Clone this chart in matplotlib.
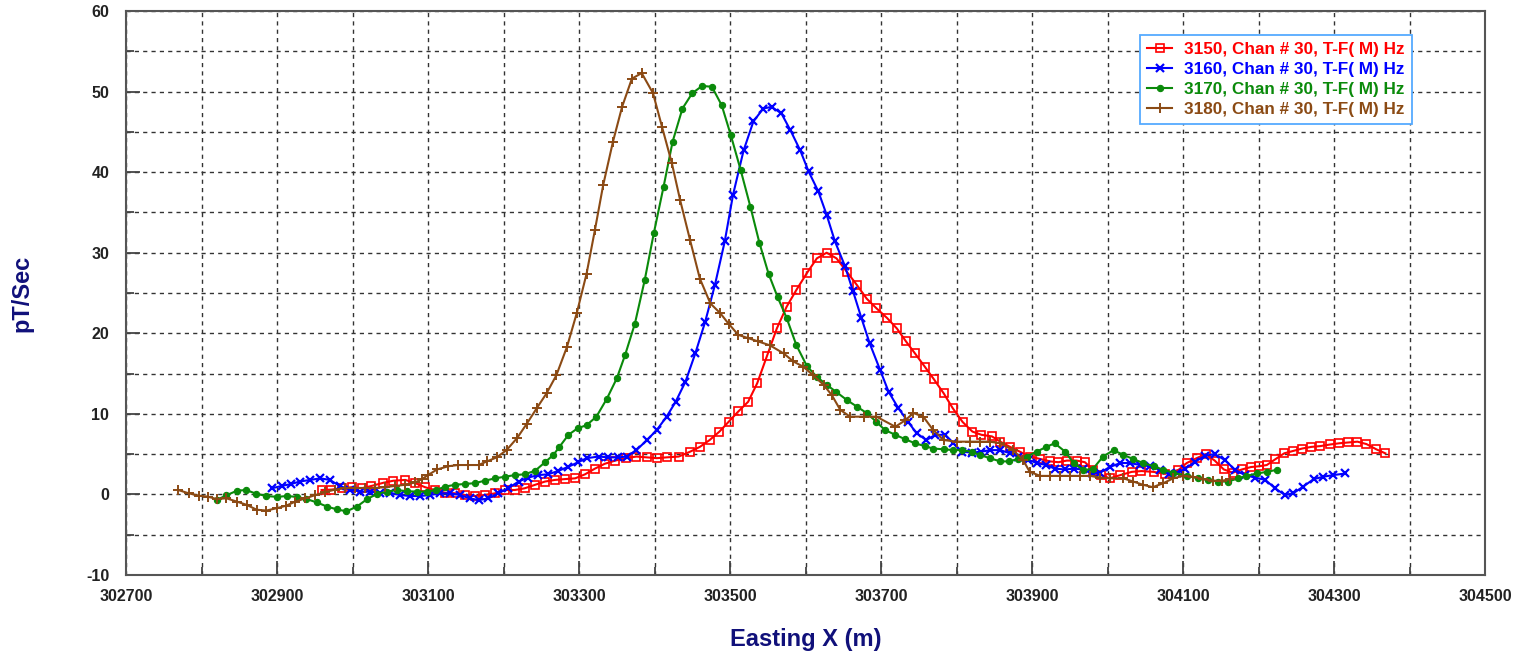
import matplotlib
matplotlib.use("Agg")
import matplotlib.pyplot as plt
from matplotlib.ticker import FixedLocator, MultipleLocator

plt.rcParams["font.family"] = ["Liberation Sans", "DejaVu Sans"]
plt.rcParams["axes.unicode_minus"] = False

# Easting (m) and response (pT/Sec) per channel-time series
x3150 = [302959, 302972, 302986, 302999, 303012, 303025, 303041, 303054, 303070, 303083,
         303096, 303109, 303123, 303136, 303149, 303162, 303175, 303189, 303202, 303215,
         303228, 303242, 303255, 303268, 303281, 303295, 303308, 303321, 303334, 303348,
         303362, 303376, 303390, 303403, 303416, 303432, 303447, 303460, 303473, 303486,
         303498, 303511, 303524, 303536, 303549, 303562, 303575, 303588, 303602, 303615,
         303628, 303641, 303655, 303668, 303681, 303694, 303708, 303721, 303733, 303745,
         303758, 303770, 303783, 303795, 303808, 303821, 303833, 303847, 303858, 303871,
         303884, 303897, 303911, 303924, 303935, 303946, 303959, 303970, 303981, 303992,
         304003, 304017, 304032, 304045, 304061, 304076, 304094, 304105, 304118, 304130,
         304142, 304154, 304166, 304178, 304190, 304201, 304211, 304222, 304234, 304246,
         304258, 304270, 304282, 304295, 304307, 304319, 304331, 304343, 304356, 304368]
y3150 = [0.55, 0.6, 0.76, 0.9, 0.76, 1.05, 1.45, 1.7, 1.8, 1.4,
         0.9, 0.55, 0.2, 0.14, -0.07, -0.2, -0.07, 0.14, 0.55, 0.55,
         0.76, 1.2, 1.6, 1.8, 1.9, 2.0, 2.5, 3.2, 3.8, 4.2,
         4.5, 4.7, 4.6, 4.5, 4.6, 4.7, 5.3, 5.9, 6.75, 7.8,
         9.0, 10.3, 11.5, 13.8, 17.2, 20.6, 23.3, 25.4, 27.5, 29.3,
         30.0, 29.3, 27.6, 26.0, 24.3, 23.1, 21.9, 20.6, 19.0, 17.5,
         15.85, 14.3, 12.55, 10.7, 9.0, 7.8, 7.4, 7.2, 6.55, 5.9,
         5.3, 4.7, 4.4, 4.1, 4.0, 4.2, 4.2, 4.0, 3.05, 2.4,
         2.0, 2.4, 2.8, 2.9, 2.8, 2.55, 3.05, 3.9, 4.5, 5.0,
         4.2, 3.1, 2.7, 3.1, 3.4, 3.5, 3.65, 4.35, 5.1, 5.4,
         5.7, 5.9, 6.0, 6.2, 6.35, 6.45, 6.55, 6.25, 5.6, 5.1]

x3160 = [302893, 302906, 302919, 302930, 302944, 302957, 302970, 302983, 302997, 303010,
         303023, 303036, 303050, 303063, 303076, 303089, 303103, 303116, 303129, 303142,
         303156, 303167, 303180, 303193, 303206, 303220, 303233, 303246, 303259, 303272,
         303285, 303299, 303310, 303326, 303339, 303352, 303363, 303376, 303390, 303403,
         303416, 303428, 303441, 303454, 303467, 303480, 303493, 303504, 303518, 303531,
         303544, 303555, 303568, 303580, 303593, 303604, 303617, 303628, 303639, 303652,
         303663, 303674, 303685, 303699, 303710, 303723, 303736, 303747, 303760, 303772,
         303785, 303796, 303807, 303820, 303833, 303844, 303858, 303871, 303882, 303895,
         303906, 303919, 303930, 303944, 303955, 303968, 303979, 303990, 304003, 304017,
         304030, 304043, 304056, 304070, 304081, 304092, 304103, 304116, 304129, 304142,
         304155, 304169, 304182, 304195, 304209, 304222, 304235, 304246, 304259, 304273,
         304286, 304299, 304315]
y3160 = [0.76, 1.05, 1.3, 1.6, 1.8, 2.0, 1.8, 1.05, 0.6, 0.35,
         0.35, 0.2, 0.2, -0.07, -0.2, -0.2, -0.07, 0.14, 0.14, -0.07,
         -0.5, -0.7, -0.5, 0.14, 0.76, 1.6, 2.1, 2.4, 2.5, 2.9,
         3.4, 4.0, 4.5, 4.7, 4.6, 4.6, 4.7, 5.5, 6.75, 8.0,
         9.65, 11.5, 14.0, 17.5, 21.4, 26.0, 31.4, 37.2, 42.7, 46.3,
         47.9, 48.1, 47.3, 45.2, 42.7, 40.1, 37.6, 34.7, 31.4, 28.4,
         25.2, 21.9, 18.75, 15.4, 12.75, 10.7, 9.0, 7.6, 6.75, 7.4,
         7.4, 6.35, 5.3, 5.2, 5.3, 5.5, 5.5, 5.1, 4.7, 4.3,
         3.9, 3.65, 3.2, 3.1, 3.2, 3.1, 2.6, 2.7, 3.4, 3.9,
         3.9, 3.65, 3.5, 3.05, 2.55, 2.6, 3.2, 4.06, 4.8, 5.0,
         4.3, 3.05, 2.4, 2.1, 1.8, 0.76, -0.07, 0.14, 0.96, 1.9,
         2.2, 2.4, 2.6]

x3170 = [302820, 302833, 302847, 302859, 302872, 302886, 302900, 302913, 302926, 302939,
         302953, 302966, 302979, 302992, 303006, 303019, 303032, 303045, 303059, 303072,
         303085, 303098, 303111, 303122, 303136, 303149, 303162, 303175, 303189, 303202,
         303215, 303228, 303242, 303255, 303266, 303274, 303286, 303298, 303310, 303323,
         303337, 303350, 303361, 303374, 303387, 303399, 303412, 303424, 303437, 303450,
         303463, 303476, 303489, 303501, 303514, 303527, 303539, 303551, 303563, 303575,
         303588, 303602, 303615, 303628, 303641, 303655, 303668, 303681, 303694, 303705,
         303719, 303732, 303745, 303758, 303769, 303783, 303796, 303807, 303820, 303831,
         303844, 303858, 303869, 303882, 303893, 303906, 303919, 303930, 303944, 303955,
         303968, 303981, 303994, 304008, 304021, 304034, 304047, 304061, 304074, 304087,
         304105, 304120, 304133, 304147, 304160, 304173, 304184, 304198, 304211, 304224]
y3170 = [-0.7, -0.1, 0.46, 0.55, 0.1, -0.2, -0.3, -0.2, -0.3, -0.57,
         -1.0, -1.5, -1.85, -2.1, -1.5, -0.6, 0.05, 0.35, 0.55, 0.4,
         0.35, 0.35, 0.55, 0.96, 1.2, 1.3, 1.4, 1.7, 2.0, 2.2,
         2.4, 2.5, 2.95, 4.0, 4.9, 5.9, 7.4, 8.2, 8.6, 9.65,
         11.9, 14.4, 17.3, 21.2, 26.6, 32.4, 38.2, 43.8, 47.9, 49.8,
         50.7, 50.6, 48.3, 44.6, 40.3, 35.7, 31.2, 27.4, 24.5, 21.9,
         18.5, 15.9, 14.6, 13.6, 12.7, 11.7, 10.9, 10.1, 9.0, 8.0,
         7.4, 6.85, 6.35, 6.0, 5.7, 5.6, 5.5, 5.5, 5.3, 4.9,
         4.5, 4.1, 4.1, 4.4, 4.7, 5.3, 5.9, 6.35, 5.3, 3.9,
         3.0, 3.2, 4.7, 5.5, 4.9, 4.4, 3.9, 3.5, 3.05, 2.7,
         2.3, 2.0, 1.8, 1.6, 1.6, 2.0, 2.3, 2.6, 2.8, 3.05]

x3180 = [302769, 302783, 302796, 302808, 302820, 302833, 302847, 302860, 302873, 302886,
         302900, 302912, 302924, 302937, 302950, 302964, 302977, 302990, 303003, 303017,
         303030, 303043, 303056, 303070, 303083, 303092, 303100, 303112, 303127, 303140,
         303153, 303167, 303178, 303191, 303204, 303218, 303231, 303244, 303257, 303270,
         303284, 303297, 303310, 303321, 303332, 303345, 303357, 303370, 303383, 303398,
         303410, 303423, 303434, 303447, 303460, 303474, 303487, 303498, 303511, 303524,
         303537, 303553, 303571, 303584, 303597, 303610, 303624, 303635, 303646, 303659,
         303677, 303694, 303719, 303732, 303743, 303756, 303769, 303783, 303800, 303818,
         303831, 303844, 303858, 303875, 303888, 303897, 303911, 303924, 303937, 303950,
         303964, 303977, 303990, 304003, 304021, 304034, 304047, 304060, 304074, 304087,
         304100, 304113, 304127, 304140, 304152, 304162]
y3180 = [0.55, 0.14, -0.15, -0.27, -0.57, -0.48, -0.9, -1.3, -1.9, -2.0,
         -1.7, -1.4, -0.9, -0.5, -0.1, 0.3, 0.6, 0.8, 0.8, 0.8,
         0.8, 0.9, 1.05, 1.2, 1.5, 1.9, 2.4, 3.1, 3.5, 3.65,
         3.65, 3.65, 4.1, 4.6, 5.5, 7.0, 8.8, 10.7, 12.55, 14.8,
         18.3, 22.5, 27.4, 32.8, 38.4, 43.8, 48.1, 51.6, 52.3, 49.8,
         45.6, 41.1, 36.5, 31.6, 26.8, 23.7, 22.5, 21.2, 19.8, 19.4,
         19.0, 18.5, 17.5, 16.5, 15.85, 14.8, 13.6, 12.3, 10.5, 9.65,
         9.65, 9.65, 8.4, 9.2, 10.1, 9.65, 8.0, 6.75, 6.55, 6.55,
         6.55, 6.55, 6.35, 5.5, 4.3, 2.8, 2.3, 2.3, 2.3, 2.3,
         2.3, 2.3, 2.1, 2.0, 2.0, 1.6, 1.2, 0.9, 1.4, 2.0,
         2.3, 2.2, 1.9, 1.7, 1.7, 1.9]

labels = ["3150, Chan # 30, T-F( M) Hz", "3160, Chan # 30, T-F( M) Hz",
          "3170, Chan # 30, T-F( M) Hz", "3180, Chan # 30, T-F( M) Hz"]
colors = ["#ff0000", "#0000ff", "#0a8a0a", "#8b4a14"]
xticks = [302700, 302900, 303100, 303300, 303500, 303700, 303900, 304100, 304300, 304500]

fig = plt.figure(figsize=(15.13, 6.52), dpi=100)
ax = fig.add_axes([0.0833, 0.1181, 0.8982, 0.865])

ax.plot(x3150, y3150, color=colors[0], lw=1.5, marker="s", ms=5.5, mfc="none", mew=1.2, label=labels[0])
ax.plot(x3160, y3160, color=colors[1], lw=1.5, marker="x", ms=6.2, mew=1.6, label=labels[1])
ax.plot(x3170, y3170, color=colors[2], lw=1.5, marker="o", ms=4.5, mew=0.8, label=labels[2])
ax.plot(x3180, y3180, color=colors[3], lw=1.5, marker="+", ms=7, mew=1.4, label=labels[3])

ax.set_xlim(302700, 304500)
ax.set_ylim(-10, 60)
ax.xaxis.set_major_locator(FixedLocator(xticks))
ax.xaxis.set_minor_locator(MultipleLocator(100))
ax.yaxis.set_major_locator(MultipleLocator(10))
ax.yaxis.set_minor_locator(MultipleLocator(5))
ax.grid(which="both", color="#333333", linestyle=(0, (3, 3)), linewidth=1.0)
ax.set_axisbelow(True)

ax.tick_params(which="both", direction="in", color="#444444", width=1.3)
ax.tick_params(which="major", length=10)
ax.tick_params(which="minor", length=6)
ax.tick_params(axis="y", pad=12)
ax.tick_params(axis="x", pad=10)
for lab in ax.get_xticklabels() + ax.get_yticklabels():
    lab.set_fontsize(11.5)
    lab.set_fontweight("bold")
    lab.set_color("#222222")
for sp in ax.spines.values():
    sp.set_color("#555555")
    sp.set_linewidth(1.5)

ax.set_xlabel("Easting X (m)", fontsize=17, fontweight="bold", color="#10107a")
ax.set_ylabel("pT/Sec", fontsize=17, fontweight="bold", color="#10107a")
ax.xaxis.set_label_coords(0.5, -0.094)
ax.yaxis.set_label_coords(-0.068, 0.5)

leg = ax.legend(loc="upper right", bbox_to_anchor=(0.946, 0.957), fancybox=False,
                framealpha=1, edgecolor="#55aaff", fontsize=12.3, handlelength=1.5,
                labelspacing=0.3, borderpad=0.4, handletextpad=0.7, borderaxespad=0)
leg.get_frame().set_linewidth(1.3)
for txt, c in zip(leg.get_texts(), colors):
    txt.set_color(c)
    txt.set_fontweight("bold")

fig.savefig("out.png", dpi=100)
